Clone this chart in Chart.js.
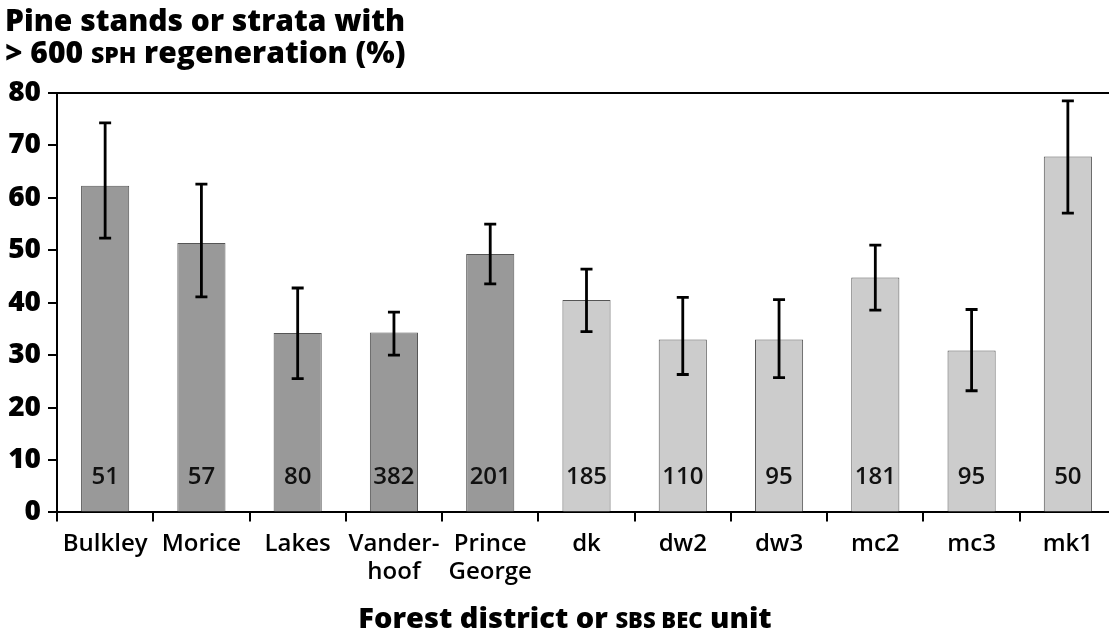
<!DOCTYPE html>
<html>
<head>
<meta charset="utf-8">
<script src="https://cdn.jsdelivr.net/npm/chart.js@4"></script>
<style>
  html, body { margin: 0; padding: 0; background: #fff; overflow: hidden; }
  #wrap { width: 1116px; height: 633px; position: relative; }
</style>
</head>
<body>
<div id="wrap"><canvas id="regen"></canvas></div>
<script>
// categories (districts first, then SBS BEC units)
const units = ['Bulkley', 'Morice', 'Lakes', ['Vander-', 'hoof'], ['Prince', 'George'], 'dk', 'dw2', 'dw3', 'mc2', 'mc3', 'mk1'];
const pctRegen = [62.3, 51.4, 34.2, 34.3, 49.3, 40.5, 33.0, 33.0, 44.8, 30.9, 67.9];
const errHigh = [74.3, 62.6, 42.8, 38.2, 55.0, 46.4, 41.0, 40.6, 51.0, 38.7, 78.5];
const errLow = [52.3, 41.1, 25.5, 30.0, 43.6, 34.5, 26.3, 25.7, 38.6, 23.2, 57.1];
const sampleN = [51, 57, 80, 382, 201, 185, 110, 95, 181, 95, 50];
const isDistrict = [true, true, true, true, true, false, false, false, false, false, false];

const FONT = "'Open Sans', Lato, sans-serif";

// draw a line of text made of segments with different sizes (small caps bits)
function drawSegments(ctx, segs, x, y, align) {
  let total = 0;
  segs.forEach(function (s) { ctx.font = s.font; total += ctx.measureText(s.text).width; });
  let cx = align === 'center' ? x - total / 2 : x;
  ctx.textAlign = 'left';
  ctx.textBaseline = 'alphabetic';
  segs.forEach(function (s) {
    ctx.font = s.font;
    ctx.fillText(s.text, cx, y);
    cx += ctx.measureText(s.text).width;
  });
}

const bigTitle = '800 30px ' + FONT;
const smallTitle = '800 23px ' + FONT;
const axisBig = '800 29px ' + FONT;
const axisSmall = '800 22px ' + FONT;

const extras = {
  id: 'extras',
  afterDatasetsDraw(chart) {
    const ctx = chart.ctx;
    const y = chart.scales.y;
    const meta = chart.getDatasetMeta(0);
    ctx.save();
    // error bars
    ctx.strokeStyle = '#000';
    ctx.lineWidth = 2.8;
    meta.data.forEach(function (bar, i) {
      const yt = y.getPixelForValue(errHigh[i]);
      const yb = y.getPixelForValue(errLow[i]);
      ctx.beginPath();
      ctx.moveTo(bar.x, yt); ctx.lineTo(bar.x, yb);
      ctx.moveTo(bar.x - 6, yt); ctx.lineTo(bar.x + 6, yt);
      ctx.moveTo(bar.x - 6, yb); ctx.lineTo(bar.x + 6, yb);
      ctx.stroke();
    });
    // sample sizes inside bars
    ctx.fillStyle = '#111';
    ctx.font = '600 24px ' + FONT;
    ctx.textAlign = 'center';
    ctx.textBaseline = 'alphabetic';
    meta.data.forEach(function (bar, i) {
      ctx.fillText(String(sampleN[i]), bar.x, y.getPixelForValue(0) - 28);
    });
    ctx.restore();
  },
  afterDraw(chart) {
    const ctx = chart.ctx;
    ctx.save();
    ctx.fillStyle = '#000';
    drawSegments(ctx, [{ text: 'Pine stands or strata with', font: bigTitle }], 5, 31, 'left');
    drawSegments(ctx, [
      { text: '> 600 ', font: bigTitle },
      { text: 'SPH', font: smallTitle },
      { text: ' regeneration (%)', font: bigTitle }
    ], 5, 63, 'left');
    drawSegments(ctx, [
      { text: 'Forest district or ', font: axisBig },
      { text: 'SBS BEC', font: axisSmall },
      { text: ' unit', font: axisBig }
    ], 565, 628, 'center');
    ctx.restore();
  }
};

const config = {
  type: 'bar',
  data: {
    labels: units,
    datasets: [{
      data: pctRegen,
      backgroundColor: isDistrict.map(function (d) { return d ? '#999999' : '#cccccc'; }),
      borderColor: '#555555',
      borderWidth: 1,
      categoryPercentage: 1,
      barPercentage: 0.5
    }]
  },
  options: {
    responsive: true,
    maintainAspectRatio: false,
    animation: false,
    layout: { padding: { top: 93, left: 0, right: 0, bottom: 38 } },
    plugins: { legend: { display: false }, tooltip: { enabled: false } },
    scales: {
      y: {
        min: 0,
        max: 80,
        afterFit: function (s) { s.width = 57; },
        ticks: {
          stepSize: 10,
          color: '#000',
          padding: 7,
          font: { family: FONT, size: 28, weight: '800' }
        },
        grid: {
          color: function (c) { return c.tick && c.tick.value === 80 ? '#000' : 'rgba(0,0,0,0)'; },
          lineWidth: 2,
          tickColor: '#000',
          tickLength: 9
        },
        border: { display: true, color: '#000', width: 2 }
      },
      x: {
        ticks: {
          color: '#000',
          padding: 8,
          maxRotation: 0,
          autoSkip: false,
          font: { family: FONT, size: 24, weight: '600', lineHeight: 1.2 }
        },
        grid: {
          offset: true,
          drawOnChartArea: false,
          lineWidth: 2,
          tickColor: '#000',
          tickLength: 9
        },
        border: { display: true, color: '#000', width: 2 }
      }
    }
  },
  plugins: [extras]
};

new Chart(document.getElementById('regen'), config);
</script>
</body>
</html>
